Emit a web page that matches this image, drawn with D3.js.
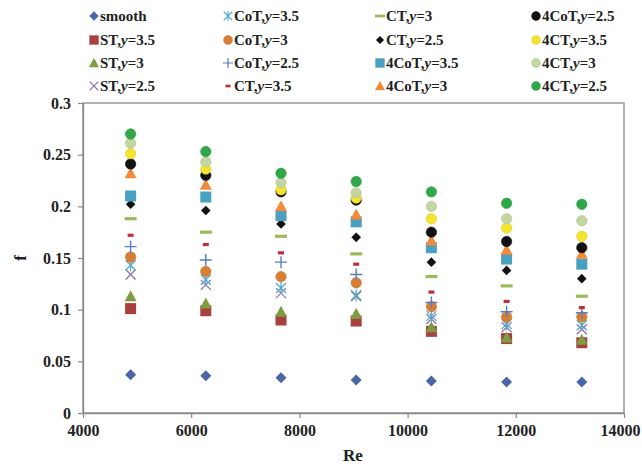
<!DOCTYPE html>
<html>
<head>
<meta charset="utf-8">
<script src="https://cdn.jsdelivr.net/npm/d3@7/dist/d3.min.js"></script>
<style>
  body { margin: 0; background: #fff; }
  svg text { font-family: "Liberation Serif", "Times New Roman", serif; font-weight: bold; }
</style>
</head>
<body>
<script>

    // Re values of the 7 measured columns
    var re = [4880, 6270, 7660, 9050, 10440, 11830, 13220];

    // friction factor f for each case
    var smooth   = [0.037, 0.036, 0.034, 0.032, 0.031, 0.030, 0.030];
    var st35     = [0.101, 0.099, 0.090, 0.089, 0.079, 0.072, 0.068];
    var st3      = [0.113, 0.106, 0.098, 0.096, 0.083, 0.073, 0.071];
    var st25     = [0.134, 0.124, 0.116, 0.113, 0.091, 0.083, 0.081];
    var cot35    = [0.143, 0.129, 0.121, 0.114, 0.094, 0.086, 0.085];
    var cot3     = [0.151, 0.137, 0.132, 0.126, 0.103, 0.093, 0.093];
    var cot25    = [0.161, 0.148, 0.146, 0.134, 0.107, 0.098, 0.097];
    var ct35     = [0.172, 0.163, 0.155, 0.144, 0.117, 0.108, 0.102];
    var ct3      = [0.188, 0.175, 0.171, 0.154, 0.132, 0.123, 0.113];
    var ct25     = [0.202, 0.196, 0.183, 0.170, 0.146, 0.138, 0.130];
    var c4ot35   = [0.210, 0.209, 0.191, 0.185, 0.160, 0.149, 0.144];
    var c4ot3    = [0.232, 0.221, 0.200, 0.192, 0.167, 0.158, 0.154];
    var c4ot25   = [0.241, 0.230, 0.214, 0.206, 0.175, 0.166, 0.160];
    var c4t35    = [0.251, 0.236, 0.216, 0.208, 0.188, 0.179, 0.171];
    var c4t3     = [0.261, 0.243, 0.223, 0.213, 0.200, 0.188, 0.186];
    var c4t25    = [0.270, 0.253, 0.232, 0.224, 0.214, 0.203, 0.202];

    var xTicks = [4000, 6000, 8000, 10000, 12000, 14000];
    var yTicks = [0, 0.05, 0.1, 0.15, 0.2, 0.25, 0.3];

    // name, case label parts, values, marker, colour
    var series = [
        { pre: 'smooth', y: null, values: smooth, marker: 'diamond', color: '#4a66a6' },
        { pre: 'ST,', y: '=3.5', values: st35, marker: 'square', color: '#a8403f' },
        { pre: 'ST,', y: '=3', values: st3, marker: 'triangle', color: '#7f9c43' },
        { pre: 'ST,', y: '=2.5', values: st25, marker: 'x', color: '#8a76a8' },
        { pre: 'CoT,', y: '=3.5', values: cot35, marker: 'star', color: '#56a9c6' },
        { pre: 'CoT,', y: '=3', values: cot3, marker: 'circle', color: '#d97f33' },
        { pre: 'CoT,', y: '=2.5', values: cot25, marker: 'plus', color: '#5a7cc0' },
        { pre: 'CT,', y: '=3.5', values: ct35, marker: 'dashS', color: '#c0303a' },
        { pre: 'CT,', y: '=3', values: ct3, marker: 'dashL', color: '#9bbb59' },
        { pre: 'CT,', y: '=2.5', values: ct25, marker: 'diamondS', color: '#111' },
        { pre: '4CoT,', y: '=3.5', values: c4ot35, marker: 'square', color: '#4aa0c0' },
        { pre: '4CoT,', y: '=3', values: c4ot3, marker: 'triangle', color: '#f28a3c' },
        { pre: '4CoT,', y: '=2.5', values: c4ot25, marker: 'circle', color: '#111' },
        { pre: '4CT,', y: '=3.5', values: c4t35, marker: 'circle', color: '#f5e430' },
        { pre: '4CT,', y: '=3', values: c4t3, marker: 'circle', color: '#c4d6a0' },
        { pre: '4CT,', y: '=2.5', values: c4t25, marker: 'circle', color: '#2fa84a' }
    ];

    var w = 642, h = 464;
    var margin = { left: 83, right: 18, top: 103, bottom: 51 };

    var x = d3.scaleLinear().domain([4000, 14000]).range([margin.left, w - margin.right]);
    var y = d3.scaleLinear().domain([0, 0.3]).range([h - margin.bottom, margin.top]);

    var svg = d3.select('body').append('svg')
        .attr('width', w)
        .attr('height', h);

    // draw one marker into a group centred at 0,0
    function drawMarker(g, type, color) {
        if (type == 'circle') {
            g.append('circle').attr('r', 5.2).attr('fill', color)
                .attr('stroke', d3.color(color).darker(0.3)).attr('stroke-width', 0.6);
        } else if (type == 'square') {
            g.append('rect').attr('x', -5.5).attr('y', -5.5).attr('width', 11).attr('height', 11)
                .attr('fill', color);
        } else if (type == 'triangle') {
            g.append('path').attr('d', 'M0,-6L6,5L-6,5Z').attr('fill', color);
        } else if (type == 'diamond') {
            g.append('path').attr('d', 'M0,-5.5L5.5,0L0,5.5L-5.5,0Z').attr('fill', color);
        } else if (type == 'diamondS') {
            g.append('path').attr('d', 'M0,-4.8L4.8,0L0,4.8L-4.8,0Z').attr('fill', color);
        } else if (type == 'x') {
            g.append('path').attr('d', 'M-5,-5L5,5M-5,5L5,-5').attr('stroke', color).attr('stroke-width', 1.3);
        } else if (type == 'star') {
            g.append('path').attr('d', 'M-5,-5L5,5M-5,5L5,-5M0,-6L0,6').attr('stroke', color).attr('stroke-width', 1.3);
        } else if (type == 'plus') {
            g.append('path').attr('d', 'M-6,0L6,0M0,-6L0,6').attr('stroke', color).attr('stroke-width', 1.4);
        } else if (type == 'dashS') {
            g.append('rect').attr('x', -3).attr('y', -1.6).attr('width', 6).attr('height', 3.2).attr('fill', color);
        } else if (type == 'dashL') {
            g.append('rect').attr('x', -6).attr('y', -1.6).attr('width', 12).attr('height', 3.2).attr('fill', color);
        }
    }

    // axes
    var axisColor = '#8c8888';

    svg.append('rect')
        .attr('x', x(4000)).attr('y', y(0.3))
        .attr('width', x(14000) - x(4000)).attr('height', y(0) - y(0.3))
        .attr('fill', 'none').attr('stroke', axisColor).attr('stroke-width', 1.3);

    var xAxis = svg.append('g')
        .attr('transform', 'translate(0,' + y(0) + ')')
        .call(d3.axisBottom(x).tickValues(xTicks).tickSize(5).tickSizeOuter(0).tickFormat(d3.format('d')));

    var yAxis = svg.append('g')
        .attr('transform', 'translate(' + x(4000) + ',0)')
        .call(d3.axisLeft(y).tickValues(yTicks).tickSize(5).tickSizeOuter(0).tickFormat(d => d == 0 ? '0' : String(d)));

    [xAxis, yAxis].forEach(a => {
        a.select('.domain').attr('stroke', axisColor).attr('stroke-width', 1.3);
        a.selectAll('.tick line').attr('stroke', axisColor).attr('stroke-width', 1.2);
        a.selectAll('text').attr('fill', '#222').attr('font-size', 16)
            .style('font-family', '"Liberation Serif", serif').style('font-weight', 'bold');
    });
    xAxis.selectAll('text').attr('dy', '0.95em')
        .attr('dx', d => d == 14000 ? -4 : 0);
    yAxis.selectAll('text').attr('x', -12);

    svg.append('text')
        .attr('x', 353).attr('y', 461)
        .attr('text-anchor', 'middle').attr('font-size', 17).attr('fill', '#222')
        .text('Re');

    svg.append('text')
        .attr('transform', 'translate(26,258) rotate(-90)')
        .attr('text-anchor', 'middle').attr('font-size', 17).attr('fill', '#222')
        .text('f');

    // points
    series.forEach(s => {
        svg.append('g').selectAll('g')
            .data(s.values)
            .enter()
            .append('g')
            .attr('transform', (d, i) => 'translate(' + x(re[i]) + ',' + y(d) + ')')
            .each(function () { drawMarker(d3.select(this), s.marker, s.color); });
    });

    // legend: 4 columns x 4 rows
    var legCols = [94, 228, 380, 536];
    var legRows = [16, 40, 63, 86];

    series.forEach((s, i) => {
        var col = Math.floor(i / 4), row = i % 4;
        var g = svg.append('g')
            .attr('transform', 'translate(' + legCols[col] + ',' + legRows[row] + ')');
        var mg = g.append('g').attr('transform', 'scale(0.85)');
        drawMarker(mg, s.marker, s.color);
        var t = g.append('text')
            .attr('x', 6).attr('y', 5)
            .attr('font-size', 15).attr('fill', '#222');
        t.append('tspan').text(s.pre);
        if (s.y) {
            t.append('tspan').attr('font-style', 'italic').text('y');
            t.append('tspan').text(s.y);
        }
    });

</script>
</body>
</html>
